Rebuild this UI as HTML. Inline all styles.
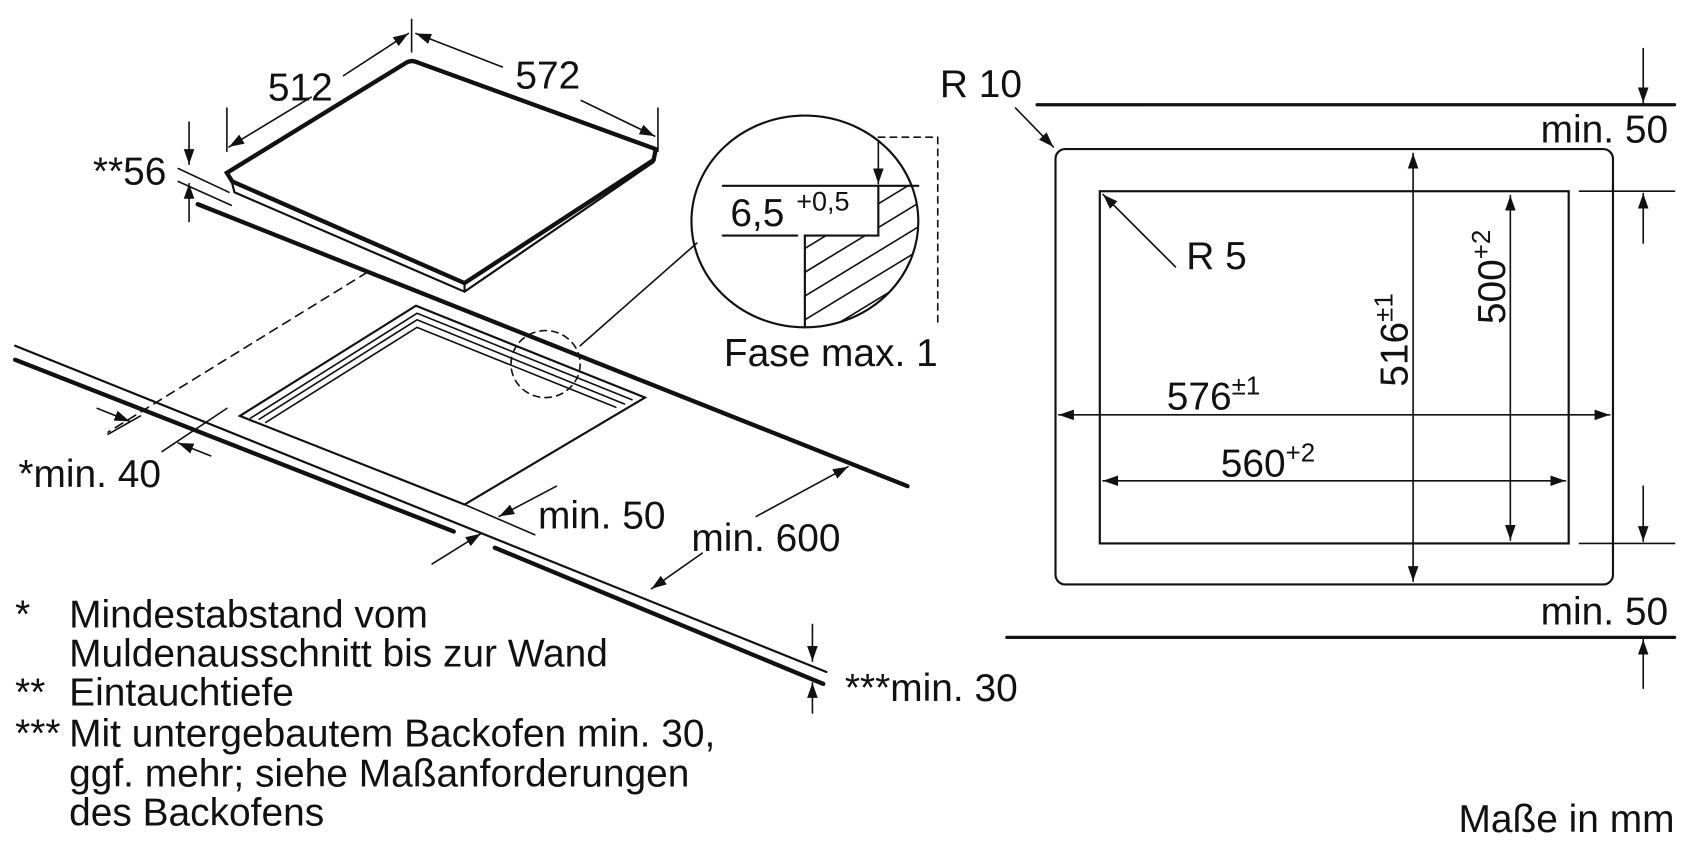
<!DOCTYPE html>
<html><head><meta charset="utf-8"><style>
html,body{margin:0;padding:0;background:#fff;}
svg{display:block;}
text{font-family:"Liberation Sans",sans-serif;fill:#111;}
</style></head><body>
<svg width="1694" height="847" viewBox="0 0 1568 784" preserveAspectRatio="none" xmlns="http://www.w3.org/2000/svg">
<defs>
<marker id="a" viewBox="0 0 10 10" refX="10" refY="5" markerWidth="14" markerHeight="14" markerUnits="userSpaceOnUse" orient="auto-start-reverse"><path d="M0,1.5 L10,5 L0,8.5 z" fill="#111"/></marker>
<clipPath id="cc"><ellipse cx="745" cy="205" rx="105" ry="98"/></clipPath>
</defs>
<g stroke="#111" fill="none" stroke-linecap="round">
<path d="M210,160 L376,58 Q381,55 387,58 L607,138 L605,148 L430,262 L215,168 Z" stroke-width="4"/>
<path d="M215,170 L217,178 L430,270 L605,150" stroke-width="2"/>
<line x1="430" y1="262" x2="430" y2="270" stroke-width="2"/>
<line x1="381" y1="18" x2="381" y2="48" stroke-width="1.5"/>
<line x1="210" y1="100" x2="210" y2="140" stroke-width="1.5"/>
<line x1="609" y1="100" x2="609" y2="140" stroke-width="1.5"/>
<line x1="318" y1="70" x2="378" y2="31" stroke-width="1.5" marker-end="url(#a)"/>
<line x1="288" y1="90" x2="212" y2="136" stroke-width="1.5" marker-end="url(#a)"/>
<line x1="465" y1="62" x2="385" y2="31" stroke-width="1.5" marker-end="url(#a)"/>
<line x1="538" y1="93" x2="606" y2="126" stroke-width="1.5" marker-end="url(#a)"/>
<line x1="165" y1="156" x2="212" y2="178" stroke-width="1.5"/>
<line x1="165" y1="168" x2="214" y2="190" stroke-width="1.5"/>
<line x1="175" y1="113" x2="175" y2="152" stroke-width="1.5" marker-end="url(#a)"/>
<line x1="175" y1="205" x2="175" y2="170" stroke-width="1.5" marker-end="url(#a)"/>
<line x1="183" y1="189" x2="840" y2="450" stroke-width="4"/>
<line x1="340" y1="252" x2="100" y2="400" stroke-width="1.5" stroke-dasharray="8,6"/>
<path d="M222,385 L385,283 L597,368 L430,467 Z" stroke-width="2"/>
<path d="M232,387 L386,290 L585,370" stroke-width="1.5"/>
<path d="M240,388 L386,296 L578,374" stroke-width="1.5"/>
<path d="M246,391 L386,303 L570,377" stroke-width="1.5"/>
<ellipse cx="505" cy="337" rx="32" ry="31" stroke-width="1.5" stroke-dasharray="6,5"/>
<line x1="537" y1="320" x2="645" y2="225" stroke-width="1.5"/>
<line x1="14" y1="320" x2="765" y2="622" stroke-width="2"/>
<line x1="14" y1="333" x2="420" y2="492" stroke-width="4"/>
<line x1="458" y1="507" x2="762" y2="633" stroke-width="4"/>
<line x1="210" y1="378" x2="150" y2="418" stroke-width="1.5"/>
<line x1="90" y1="378" x2="120" y2="390" stroke-width="1.5" marker-end="url(#a)"/>
<line x1="195" y1="422" x2="165" y2="410" stroke-width="1.5" marker-end="url(#a)"/>
<line x1="100" y1="402" x2="130" y2="385" stroke-width="1.5"/>
<line x1="430" y1="467" x2="495" y2="495" stroke-width="1.5"/>
<line x1="515" y1="450" x2="462" y2="478" stroke-width="1.5" marker-end="url(#a)"/>
<line x1="400" y1="522" x2="445" y2="494" stroke-width="1.5" marker-end="url(#a)"/>
<line x1="700" y1="478" x2="785" y2="432" stroke-width="1.5" marker-end="url(#a)"/>
<line x1="650" y1="512" x2="603" y2="545" stroke-width="1.5" marker-end="url(#a)"/>
<line x1="752" y1="578" x2="752" y2="612" stroke-width="1.5" marker-end="url(#a)"/>
<line x1="752" y1="660" x2="752" y2="632" stroke-width="1.5" marker-end="url(#a)"/>
<g clip-path="url(#cc)" stroke-width="1.5">
<g>
<line x1="745" y1="230" x2="860" y2="160"/>
<line x1="745" y1="252" x2="860" y2="182"/>
<line x1="745" y1="274" x2="860" y2="204"/>
<line x1="745" y1="296" x2="860" y2="226"/>
<line x1="745" y1="318" x2="860" y2="248"/>
<line x1="760" y1="330" x2="860" y2="270"/>
</g>
<rect x="660" y="140" width="153" height="77" fill="#fff" stroke="none"/>
<rect x="660" y="218" width="84" height="100" fill="#fff" stroke="none"/>
<rect x="813" y="100" width="60" height="71" fill="#fff" stroke="none"/>
</g>
<ellipse cx="745" cy="205" rx="105" ry="98" stroke-width="2"/>
<path d="M669,172 L813,172 L813,218 L745,218 L745,303" stroke-width="2"/>
<line x1="813" y1="172" x2="850" y2="172" stroke-width="2"/>
<line x1="669" y1="218" x2="738" y2="218" stroke-width="2"/>
<path d="M813,127 L868,127 L868,298" stroke-width="1.5" stroke-dasharray="6,5"/>
<line x1="813" y1="130" x2="813" y2="170" stroke-width="1.5" marker-end="url(#a)"/>
<rect x="977" y="138" width="516" height="403" rx="9" stroke-width="2"/>
<rect x="1018" y="177" width="434" height="326" stroke-width="2"/>
<line x1="960" y1="97" x2="1550" y2="97" stroke-width="3"/>
<line x1="932" y1="590" x2="1550" y2="590" stroke-width="3"/>
<line x1="1462" y1="177" x2="1550" y2="177" stroke-width="1.5"/>
<line x1="1462" y1="503" x2="1550" y2="503" stroke-width="1.5"/>
<line x1="1521" y1="45" x2="1521" y2="95" stroke-width="1.5" marker-end="url(#a)"/>
<line x1="1521" y1="225" x2="1521" y2="179" stroke-width="1.5" marker-end="url(#a)"/>
<line x1="1521" y1="450" x2="1521" y2="501" stroke-width="1.5" marker-end="url(#a)"/>
<line x1="1521" y1="637" x2="1521" y2="592" stroke-width="1.5" marker-end="url(#a)"/>
<line x1="940" y1="100" x2="975" y2="136" stroke-width="1.5" marker-end="url(#a)"/>
<line x1="1088" y1="247" x2="1021" y2="180" stroke-width="1.5" marker-end="url(#a)"/>
<line x1="1308" y1="142" x2="1308" y2="538" stroke-width="1.5" marker-start="url(#a)" marker-end="url(#a)"/>
<line x1="1398" y1="181" x2="1398" y2="500" stroke-width="1.5" marker-start="url(#a)" marker-end="url(#a)"/>
<line x1="980" y1="384" x2="1490" y2="384" stroke-width="1.5" marker-start="url(#a)" marker-end="url(#a)"/>
<line x1="1021" y1="445" x2="1449" y2="445" stroke-width="1.5" marker-start="url(#a)" marker-end="url(#a)"/>
</g>
<g font-size="36">
<text x="248" y="93">512</text>
<text x="477" y="82">572</text>
<text x="86" y="171">**56</text>
<text x="17" y="451">*min. 40</text>
<text x="498" y="489">min. 50</text>
<text x="640" y="510">min. 600</text>
<text x="782" y="649">***min. 30</text>
<text x="670" y="339">Fase max. 1</text>
<text x="676" y="209">6,5</text>
<text x="737" y="195" font-size="25">+0,5</text>
<text x="870" y="90">R 10</text>
<text x="1098" y="249">R 5</text>
<text x="1426" y="132">min. 50</text>
<text x="1426" y="578">min. 50</text>
<text x="1080" y="379">576<tspan font-size="24" dy="-14">±1</tspan></text>
<text x="1130" y="441">560<tspan font-size="24" dy="-14">+2</tspan></text>
<text transform="translate(1303,358) rotate(-90)">516<tspan font-size="24" dy="-14">±1</tspan></text>
<text transform="translate(1393,300) rotate(-90)">500<tspan font-size="24" dy="-14">+2</tspan></text>
<text x="14" y="581">*</text><text x="64" y="581">Mindestabstand vom</text>
<text x="64" y="617">Muldenausschnitt bis zur Wand</text>
<text x="14" y="653">**</text><text x="64" y="653">Eintauchtiefe</text>
<text x="14" y="691">***</text><text x="64" y="691">Mit untergebautem Backofen min. 30,</text>
<text x="64" y="728">ggf. mehr; siehe Maßanforderungen</text>
<text x="64" y="764">des Backofens</text>
<text x="1350" y="770" fill="#444">Maße in mm</text>
</g>
</svg>
</body></html>
